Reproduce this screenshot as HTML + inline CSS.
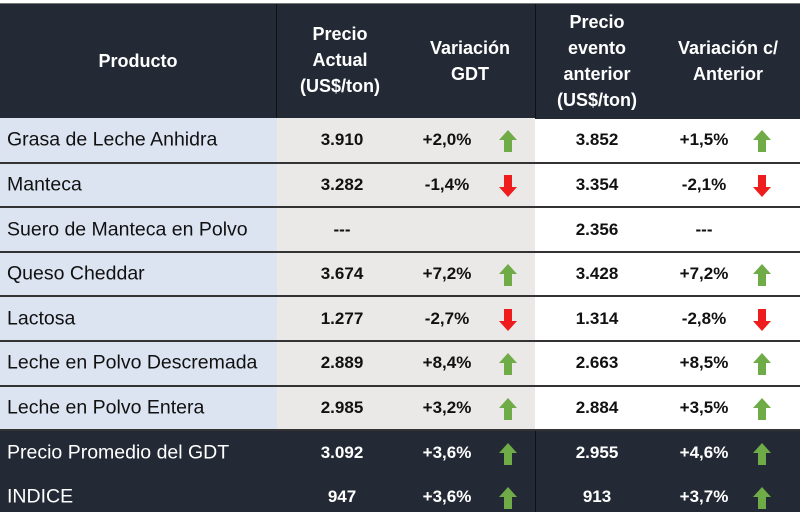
<!DOCTYPE html>
<html><head><meta charset="utf-8"><style>
body{margin:0;width:800px;height:512px;overflow:hidden;background:#fff;font-family:"Liberation Sans",sans-serif;position:relative}
.a{position:absolute}
.c{position:absolute;transform:translate(-50%,-50%);white-space:nowrap}
.h{color:#fff;font-weight:bold;font-size:18px;text-align:center;line-height:26px}
.v{font-weight:bold;font-size:17px;color:#111}
.l{font-size:19.5px;color:#111;position:absolute;transform:translateY(-50%);white-space:nowrap}
.w{color:#fff}
</style></head><body>
<div class="a" style="left:0;top:3px;width:800px;height:115px;background:#232a35;border-top:1px solid #777"></div>
<div class="a" style="left:276px;top:4px;width:1px;height:114px;background:#111"></div>
<div class="a" style="left:535px;top:4px;width:1px;height:114px;background:#111"></div>
<div class="a" style="left:0;top:118px;width:277px;height:312px;background:#dce4f2"></div>
<div class="a" style="left:277px;top:118px;width:258px;height:312px;background:#ebe9e8"></div>
<div class="a" style="left:0;top:430px;width:800px;height:82px;background:#232a35"></div>
<div class="a" style="left:535px;top:430px;width:1px;height:82px;background:#111"></div>
<div class="c h" style="left:138px;top:61px">Producto</div>
<div class="c h" style="left:340px;top:60px">Precio<br>Actual<br>(US$/ton)</div>
<div class="c h" style="left:470px;top:61px">Variación<br>GDT</div>
<div class="c h" style="left:597px;top:61px">Precio<br>evento<br>anterior<br>(US$/ton)</div>
<div class="c h" style="left:728px;top:61px">Variación c/<br>Anterior</div>
<div id="rows"></div>
<script>
const products=["Grasa de Leche Anhidra","Manteca","Suero de Manteca en Polvo","Queso Cheddar","Lactosa","Leche en Polvo Descremada","Leche en Polvo Entera","Precio Promedio del GDT","INDICE"];
const actual=["3.910","3.282","---","3.674","1.277","2.889","2.985","3.092","947"];
const varGdt=["+2,0%","-1,4%","","+7,2%","-2,7%","+8,4%","+3,2%","+3,6%","+3,6%"];
const anterior=["3.852","3.354","2.356","3.428","1.314","2.663","2.884","2.955","913"];
const varAnt=["+1,5%","-2,1%","---","+7,2%","-2,8%","+8,5%","+3,5%","+4,6%","+3,7%"];
const root=document.getElementById('rows');
const rowH=44.6, top0=118;
function arrow(x,y,up){
  const s=document.createElementNS('http://www.w3.org/2000/svg','svg');
  s.setAttribute('width','20');s.setAttribute('height','24');
  s.style.position='absolute';s.style.left=(x-10)+'px';s.style.top=(y-12)+'px';
  const p=document.createElementNS('http://www.w3.org/2000/svg','polygon');
  p.setAttribute('points',up?'10,1 19,11 14,11 14,23 6,23 6,11 1,11':'10,23 19,13 14,13 14,1 6,1 6,13 1,13');
  p.setAttribute('fill',up?'#6fab46':'#ee1c1c');
  s.appendChild(p);
  
  
  root.appendChild(s);
}
function txt(cls,x,y,t,name){
  const d=document.createElement('div');d.className=cls;d.textContent=t;
  d.style.left=x+'px';d.style.top=y+'px';
  
  
  root.appendChild(d);
}
const isNum=s=>/^[+-]\d/.test(s);
products.forEach((p,i)=>{
  const y=top0+rowH*i+rowH/2;
  const dark=i>=7;
  const w=dark?' w':'';
  txt('l'+w,7,y,p,'product-label');
  txt('c v'+w,342,y,actual[i],'current-price');
  if(varGdt[i]){txt('c v'+w,447,y,varGdt[i],'gdt-variation');if(isNum(varGdt[i]))arrow(508,y+1,varGdt[i][0]==='+');}
  txt('c v'+w,597,y,anterior[i],'previous-price');
  txt('c v'+w,704,y,varAnt[i],'previous-variation');
  if(isNum(varAnt[i]))arrow(762,y+1,varAnt[i][0]==='+');
  if(i<7){
    const ln=document.createElement('div');ln.className='a';
    ln.style.cssText='left:0;width:800px;height:2px;background:#333;top:'+(top0+rowH*(i+1)-1)+'px';
    
    
    root.appendChild(ln);
  }
});
</script>
</body></html>
